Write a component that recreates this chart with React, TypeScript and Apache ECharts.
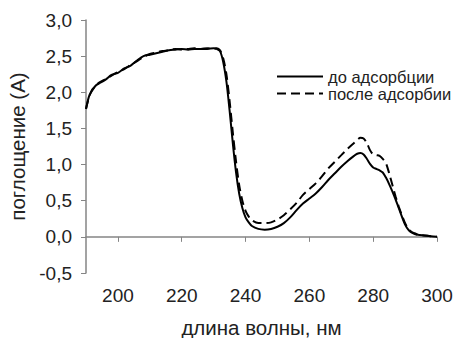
import React, { useEffect, useRef } from "react";
import * as echarts from "echarts";

const wavelengths = [
  190, 191, 192, 193, 194, 196, 198, 200, 202, 204, 206, 208, 210, 212, 214, 216, 218, 220, 222, 224, 226, 228, 230, 231, 232, 233, 234, 235, 236, 237, 238, 239, 240, 241, 242, 244, 246, 248, 250, 252, 254, 256, 258, 260, 262, 264, 266, 268, 270, 272, 274, 275, 276, 277, 278, 279, 280, 281, 282, 283, 284, 285, 286, 287, 288, 289, 290, 291, 292, 293, 294, 296, 298, 300,
];

const beforeAdsorption = [
  1.77, 1.95, 2.03, 2.09, 2.12, 2.17, 2.24, 2.27, 2.33, 2.37, 2.44, 2.5, 2.52, 2.54, 2.56, 2.58, 2.59, 2.6, 2.59, 2.6, 2.6, 2.6, 2.61, 2.6, 2.57, 2.42, 2.15, 1.75, 1.3, 0.9, 0.6, 0.4, 0.27, 0.2, 0.15, 0.11, 0.1, 0.11, 0.14, 0.19, 0.27, 0.37, 0.46, 0.53, 0.6, 0.69, 0.79, 0.88, 0.97, 1.05, 1.12, 1.15, 1.16, 1.14, 1.08, 1.01, 0.96, 0.94, 0.92, 0.89, 0.82, 0.73, 0.63, 0.52, 0.4, 0.28, 0.17, 0.1, 0.06, 0.04, 0.03, 0.02, 0.01, 0.0,
];

const afterAdsorption = [
  1.77, 1.94, 2.04, 2.08, 2.13, 2.18, 2.23, 2.28, 2.32, 2.38, 2.43, 2.49, 2.53, 2.55, 2.57, 2.58, 2.6, 2.59, 2.6, 2.61, 2.6, 2.61, 2.6, 2.61, 2.58, 2.47, 2.25, 1.88, 1.45, 1.05, 0.72, 0.5, 0.36, 0.28, 0.23, 0.19, 0.19, 0.2, 0.24, 0.3, 0.38, 0.47, 0.58, 0.66, 0.74, 0.84, 0.95, 1.04, 1.13, 1.22, 1.3, 1.34, 1.37, 1.36, 1.3, 1.2, 1.14, 1.13, 1.12, 1.08, 1.02, 0.88, 0.72, 0.56, 0.42, 0.3, 0.19, 0.11, 0.07, 0.05, 0.03, 0.02, 0.01, 0.0,
];

const xTicks = [200, 220, 240, 260, 280, 300];
const seriesNames = ["до адсорбции", "после адсорбии"];

const FONT = "'Liberation Sans', Arial, sans-serif";
const AXIS_COLOR = "#858585";

export default function App() {
  const ref = useRef<HTMLDivElement>(null);
  useEffect(() => {
    if (!ref.current) return;
    const chart = echarts.init(ref.current, null, { renderer: "svg" });
    const pairs = (ys: number[]) => wavelengths.map((x, i) => [x, ys[i]]);
    chart.setOption({
      animation: false,
      backgroundColor: "#ffffff",
      textStyle: { fontFamily: FONT },
      grid: { left: 86, right: 16, top: 20, bottom: 65, containLabel: false, outerBoundsMode: "none" },
      legend: {
        orient: "vertical",
        left: 271,
        top: 63,
        itemWidth: 46,
        itemHeight: 14,
        itemGap: 0,
        itemStyle: { opacity: 0 },
        textStyle: { fontSize: 16.5, color: "#222", fontFamily: FONT },
        data: seriesNames,
      },
      xAxis: {
        type: "value",
        min: 190,
        max: 300,
        name: "длина волны, нм",
        nameLocation: "middle",
        nameGap: 44,
        nameTextStyle: { fontSize: 20.5, color: "#222", fontFamily: FONT },
        axisLine: { show: true, lineStyle: { color: AXIS_COLOR, width: 1.5 } },
        axisTick: { show: true, customValues: xTicks, length: 5, lineStyle: { color: AXIS_COLOR } },
        axisLabel: { customValues: xTicks, fontSize: 19, color: "#222", margin: 13, fontFamily: FONT },
        splitLine: { show: false },
      },
      yAxis: {
        type: "value",
        min: -0.5,
        max: 3,
        interval: 0.5,
        name: "поглощение (A)",
        nameLocation: "middle",
        nameGap: 57,
        nameTextStyle: { fontSize: 20.5, color: "#222", fontFamily: FONT },
        axisLine: { show: true, lineStyle: { color: AXIS_COLOR, width: 1.5 } },
        axisTick: { show: true, length: 5, lineStyle: { color: AXIS_COLOR } },
        axisLabel: {
          fontSize: 19,
          color: "#222",
          margin: 14,
          fontFamily: FONT,
          formatter: (v: number) => v.toFixed(1).replace(".", ","),
        },
        splitLine: { show: false },
      },
      series: [
        {
          name: seriesNames[0],
          type: "line",
          data: pairs(beforeAdsorption),
          symbol: "none",
          smooth: 0.3,
          lineStyle: { color: "#000", width: 2, type: "solid" },
          itemStyle: { color: "#000" },
        },
        {
          name: seriesNames[1],
          type: "line",
          data: pairs(afterAdsorption),
          symbol: "none",
          smooth: 0.3,
          lineStyle: { color: "#000", width: 2, type: [9, 5] },
          itemStyle: { color: "#000" },
        },
      ],
    });
    return () => chart.dispose();
  }, []);
  return <div ref={ref} style={{ width: 453, height: 338, position: "absolute", left: 0, top: 0 }} />;
}
